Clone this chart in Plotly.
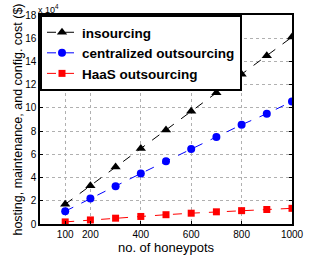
import plotly.graph_objects as go

honeypots = [100, 200, 300, 400, 500, 600, 700, 800, 900, 1000]
insourcing = [1.7, 3.3, 4.9, 6.5, 8.1, 9.7, 11.3, 12.9, 14.5, 16.1]
centralized = [1.1, 2.2, 3.25, 4.35, 5.4, 6.45, 7.5, 8.55, 9.5, 10.55]
haas = [0.18, 0.35, 0.5, 0.65, 0.8, 0.93, 1.05, 1.15, 1.25, 1.35]
x_ticks = [100, 200, 400, 600, 800, 1000]
y_ticks = [0, 2, 4, 6, 8, 10, 12, 14, 16, 18]

fig = go.Figure()
fig.add_trace(go.Scatter(x=honeypots, y=insourcing, name="insourcing", mode="lines+markers",
                         line=dict(color="black", dash="dash", width=1),
                         marker=dict(symbol="triangle-up", size=9, color="black")))
fig.add_trace(go.Scatter(x=honeypots, y=centralized, name="centralized outsourcing", mode="lines+markers",
                         line=dict(color="blue", dash="dash", width=1),
                         marker=dict(symbol="circle", size=8, color="blue")))
fig.add_trace(go.Scatter(x=honeypots, y=haas, name="HaaS outsourcing", mode="lines+markers",
                         line=dict(color="red", dash="dash", width=1),
                         marker=dict(symbol="square", size=7, color="red")))

axis_common = dict(showline=True, linecolor="black", linewidth=1.5, mirror="ticks",
                   ticks="inside", ticklen=3, tickcolor="black",
                   showgrid=True, gridcolor="#b0b0b0", griddash="dot", gridwidth=1,
                   zeroline=False, tickfont=dict(size=10, color="black"),
                   ticklabeloverflow="allow")

fig.update_layout(
    width=310, height=255,
    margin=dict(l=40, r=6, t=15, b=31),
    paper_bgcolor="white", plot_bgcolor="white",
    font=dict(family="Liberation Sans, Arial, sans-serif", color="black"),
    showlegend=True,
    legend=dict(x=0.0, y=1.0, xanchor="left", yanchor="top",
                bgcolor="white", bordercolor="black", borderwidth=2,
                font=dict(size=13.5, color="black", weight="bold"),
                tracegroupgap=0, itemwidth=30),
    xaxis=dict(range=[0, 1000], tickvals=x_ticks, ticktext=[str(v) for v in x_ticks],
               title=dict(text="no. of honeypots", font=dict(size=13), standoff=0), **axis_common),
    yaxis=dict(range=[0, 18], tickvals=y_ticks, ticktext=[str(v) for v in y_ticks],
               title=dict(text="hosting, maintenance, and config. cost ($)", font=dict(size=12.5), standoff=0),
               **axis_common),
)
fig.add_annotation(x=0, y=1, xref="paper", yref="paper", xanchor="left", yanchor="bottom",
                   text="x 10<sup>4</sup>", showarrow=False, font=dict(size=9), xshift=-4, yshift=-2)

fig.write_html("out.html", config={"displayModeBar": False},
               post_script="document.body.style.margin='0';")
